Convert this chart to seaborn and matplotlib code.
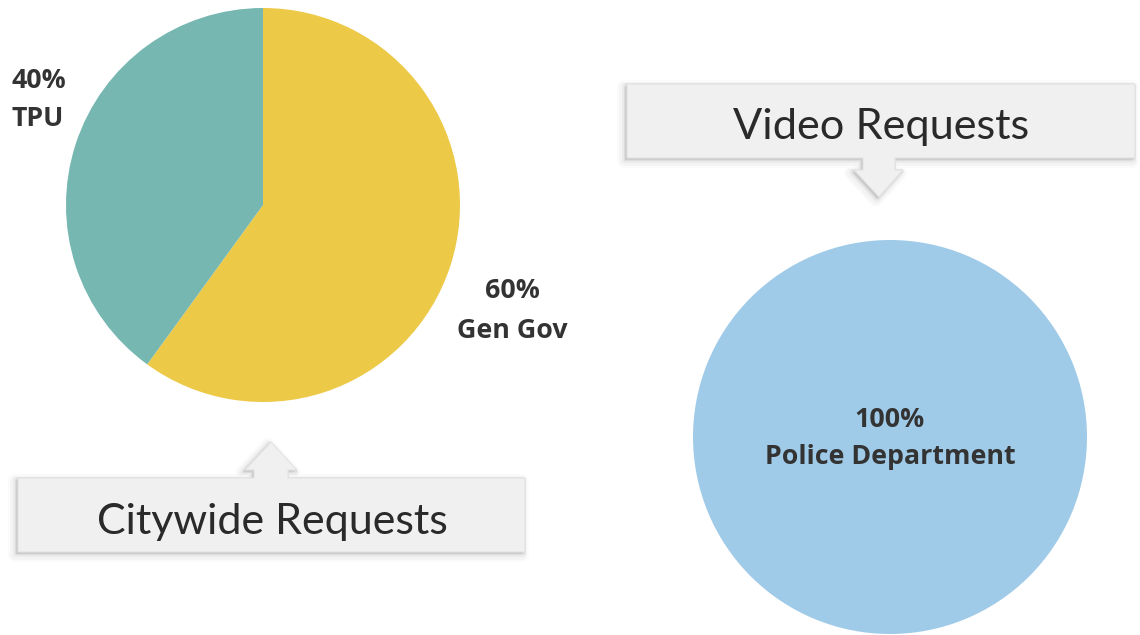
import matplotlib
matplotlib.use("Agg")
import matplotlib.pyplot as plt
from matplotlib.patches import Polygon
import seaborn as sns

# ---- data ----
city_labels = ["Gen Gov", "TPU"]
city_values = [60, 40]
video_labels = ["Police Department"]
video_values = [100]
city_colors = ["#EDC948", "#76B7B2"]
video_colors = ["#A0CBE8"]
callout_titles = ["Citywide Requests", "Video Requests"]

sns.set_theme(style="white")
plt.rcParams["font.family"] = ["Open Sans", "DejaVu Sans"]

W, H = 1140, 635
fig = plt.figure(figsize=(W / 100, H / 100), dpi=100)
fig.patch.set_facecolor("white")


def px_axes(x0, y0, x1, y1, **kw):
    return fig.add_axes([x0 / W, 1 - y1 / H, (x1 - x0) / W, (y1 - y0) / H], **kw)


# pies
ax1 = px_axes(66, 8, 460, 402)
ax1.pie(city_values, colors=city_colors, startangle=90, counterclock=False,
        radius=1, wedgeprops=dict(linewidth=0))
ax1.set_xlim(-1, 1); ax1.set_ylim(-1, 1); ax1.axis("off")

ax2 = px_axes(693, 240, 1087, 634)
ax2.pie(video_values, colors=video_colors, startangle=90, counterclock=False,
        radius=1, wedgeprops=dict(linewidth=0))
ax2.set_xlim(-1, 1); ax2.set_ylim(-1, 1); ax2.axis("off")

# overlay in pixel coordinates
ov = fig.add_axes([0, 0, 1, 1], zorder=5)
ov.set_xlim(0, W); ov.set_ylim(H, 0); ov.axis("off")
ov.patch.set_alpha(0)

renderer = fig.canvas.get_renderer()


def fit(t, target_w):
    bb = t.get_window_extent(renderer=renderer)
    t.set_fontsize(t.get_fontsize() * target_w / bb.width)


def callout(pts):
    for off, lw, a in [((-3, 3), 10, 0.03), ((-3, 3), 7, 0.05), ((-2, 2), 4, 0.08), ((-1, 1), 2, 0.12)]:
        sp = [(x + off[0], y + off[1]) for x, y in pts]
        ov.add_patch(Polygon(sp, closed=True, facecolor="#808080", edgecolor="#808080",
                             lw=lw, alpha=a, joinstyle="round"))
    ov.add_patch(Polygon(pts, closed=True, facecolor="#F0F0F0", edgecolor="#E2E2E2",
                         lw=0.8, joinstyle="miter"))


# Video callout (down arrow)
cx = 879
video_pts = [(627, 84), (1135, 84), (1135, 158), (cx + 16, 158), (cx + 16, 170), (cx + 24, 170),
             (cx, 197), (cx - 25, 170), (cx - 16, 170), (cx - 16, 158), (627, 158)]
callout(video_pts)
# Citywide callout (up arrow)
cx = 271
city_pts = [(18, 478), (cx - 17, 478), (cx - 17, 470), (cx - 26, 470), (cx, 442),
            (cx + 26, 470), (cx + 17, 470), (cx + 17, 478), (525, 478), (525, 552), (18, 552)]
callout(city_pts)

t = ov.text(272, 534, callout_titles[0], ha="center", va="baseline", fontsize=30,
            family=["Lato", "DejaVu Sans"], color="#2a2a2a")
fit(t, 352)
t = ov.text(881, 139, callout_titles[1], ha="center", va="baseline", fontsize=30,
            family=["Lato", "DejaVu Sans"], color="#2a2a2a")
fit(t, 296)

# slice labels
lab_kw = dict(fontweight="bold", color="#333333", va="baseline")
ref = ov.text(890, 464, video_labels[0], ha="center", fontsize=16, **lab_kw)
fit(ref, 250)
fs = ref.get_fontsize()
ov.text(889, 427, f"{video_values[0]}%", ha="center", fontsize=fs, **lab_kw)

ov.text(512, 298, f"{city_values[0]}%", ha="center", fontsize=fs, **lab_kw)
ov.text(512, 338, city_labels[0], ha="center", fontsize=fs, **lab_kw)
ov.text(12, 88, f"{city_values[1]}%", ha="left", fontsize=fs, **lab_kw)
ov.text(12, 126, city_labels[1], ha="left", fontsize=fs, **lab_kw)

fig.savefig("out.png", dpi=100, facecolor="white")
